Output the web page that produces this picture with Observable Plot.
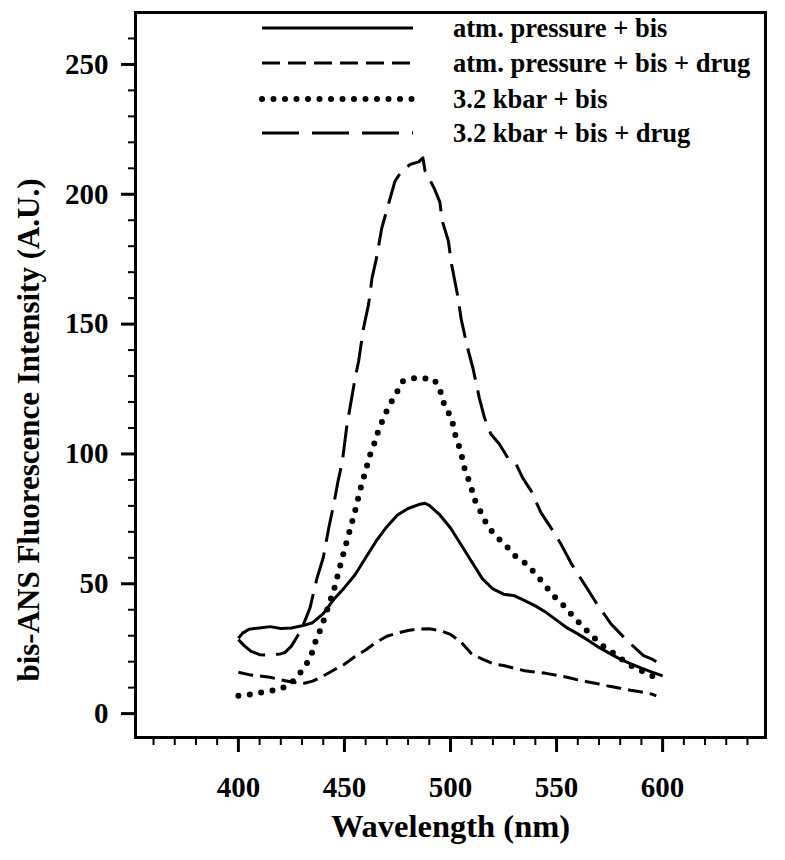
<!DOCTYPE html>
<html><head><meta charset="utf-8">
<script src="https://cdn.jsdelivr.net/npm/d3@7"></script>
<script src="https://cdn.jsdelivr.net/npm/@observablehq/plot@0.6"></script>
<style>
body{margin:0;background:#fff}
#wrap{position:relative;width:785px;height:860px;background:#fff}
#legend{position:absolute;left:0;top:0;pointer-events:none}
</style>
</head><body><div id="wrap"></div>
<script>
// Series: atm. pressure + bis (solid)
const atmBisX = [400,402,405,410,415,420,425,430,435,440,445,450,455,460,465,470,475,480,485,488,490,495,500,505,510,515,520,525,530,535,540,545,550,555,560,565,570,575,580,585,590,595,600];
const atmBisY = [29,31,32.5,33,33.5,32.8,33,33.8,35,38.5,44,48.5,53.5,60,66.5,72,76.5,79,80.5,81,80.2,76.5,71.5,65,58.5,52,48,46,45.4,43.5,41.5,39,36,33,30.7,28.2,25.5,23.2,21,19.2,17.5,16,14.5];

// Series: atm. pressure + bis + drug (short dash)
const atmDrugX = [400,405,410,415,420,425,430,435,440,445,450,455,460,465,470,475,480,485,490,495,500,505,510,515,520,525,530,535,540,545,550,555,560,565,570,575,580,585,590,595,597];
const atmDrugY = [15.9,15,14.5,14,13,12.2,11.5,12.5,14.5,16.8,19,22,24.5,27.5,29.8,31,32,32.6,32.7,32,30.5,27.5,23,21,19.2,18.5,17.5,16.5,16,15.5,14.8,14,13,12.2,11.4,10.5,9.8,9,8.3,7.5,6.8];

// Series: 3.2 kbar + bis (dotted)
const kbarBisX = [400,405,410,415,420,425,430,434,436,438.5,440.7,442.8,445,448,450,452,455,458,460,462,464,466,468.5,471,474,477.5,482.5,486,489.5,492.5,495.8,497.3,500.5,502,504,505.5,507,509.4,511,513.6,517,520.7,525.4,530,535.7,540.4,544,548.6,553.5,558.3,563,568,572.8,578.7,583.4,590,597,600];
const kbarBisY = [6.9,7.3,8,8.7,9.5,11.8,16.5,21.5,27,32,37,42.3,47.5,57,63,69,78,88,93.5,99.5,103.8,109,114,118.5,122.7,128,129.2,128.8,129.2,128.5,123,118,114,108,103,98.5,93,88.5,83,78.8,73,68.8,65.4,61,57.7,53.5,50,45.4,41.5,37,33,29,25.4,22.3,19.2,16.5,13.8,13];

// Series: 3.2 kbar + bis + drug (long dash)
const kbarDrugX = [400,403,406,410,415,420,422,425,428.5,431,433.8,437,440,442.6,445,447,449,451,452.6,455,456.7,459,461.4,463,465,467.6,470.7,473.8,477,481,485,487,488,490,492.5,495,496,499,500.5,503.6,505,508,510.6,513.6,516,519,523,527,531,534,538,542.7,547.4,552,557,563,569,575.6,583.4,591,595,597];
const kbarDrugY = [28.5,26,24,22.7,22.5,23,23.6,26,30.7,35,40.8,52,60,71.5,80.8,89.6,97,110,117.7,129,135.8,148.5,157.7,167.7,175,187,196,205,209,211.5,212.5,214,209,206,202,197,190,182,173,160,152,141,133,121.5,114,107.7,103.8,98.5,96,90.8,85.8,77.3,71.5,65.4,57.7,50,42.3,34.6,28,22.3,21,20];

const seriesNames = ["atm. pressure + bis","atm. pressure + bis + drug","3.2 kbar + bis","3.2 kbar + bis + drug"];
const yMajorTicks = [0,50,100,150,200,250];
const xMajorTicks = [400,450,500,550,600];

const styles = [
  {strokeWidth:3, strokeDasharray:null, legendDash:null, strokeLinecap:"butt"},
  {strokeWidth:3, strokeDasharray:"15,7", legendDash:"18,8", strokeLinecap:"butt"},
  {strokeWidth:6, strokeDasharray:"0,11.5", legendDash:"0,11.5", strokeLinecap:"round"},
  {strokeWidth:3, strokeDasharray:"32,11", legendDash:"37,13", strokeLinecap:"butt"}
];

const toRows = (xs, ys) => xs.map((x,i) => ({x, y: ys[i]}));
const series = [toRows(atmBisX, atmBisY), toRows(atmDrugX, atmDrugY), toRows(kbarBisX, kbarBisY), toRows(kbarDrugX, kbarDrugY)];

const yMinor = d3.range(0, 270, 10).filter(v => !yMajorTicks.includes(v));
const xMinor = d3.range(360, 650, 10).filter(v => !xMajorTicks.includes(v));

const font = "'Liberation Serif','Times New Roman',serif";

const lineMarks = series.map((rows, i) => Plot.line(rows, {
  x:"x", y:"y", stroke:"black",
  strokeWidth: styles[i].strokeWidth,
  strokeDasharray: styles[i].strokeDasharray || undefined,
  strokeLinecap: styles[i].strokeLinecap,
  strokeLinejoin: "round"
}));

const chart = Plot.plot({
  width: 785, height: 860,
  marginLeft: 135, marginRight: 20, marginTop: 12, marginBottom: 123,
  x: {domain: [351.5, 648.5]},
  y: {domain: [-9.2, 270]},
  style: {fontFamily: font, fontWeight: "bold", color: "black", background: "white", overflow: "visible"},
  marks: [
    Plot.axisY(yMinor, {tickSize: 7, tickFormat: () => "", strokeWidth: 2, label: null}),
    Plot.axisY(yMajorTicks, {tickSize: 14, tickPadding: 13, fontSize: 29, strokeWidth: 3, label: null}),
    Plot.axisX(xMinor, {tickSize: 8, tickFormat: () => "", strokeWidth: 2, label: null}),
    Plot.axisX(xMajorTicks, {tickSize: 15, tickPadding: 24, fontSize: 29, strokeWidth: 3, label: null}),
    ...lineMarks,
    Plot.frame({stroke: "black", strokeWidth: 3}),
    Plot.text(["Wavelength (nm)"], {frameAnchor: "bottom", dy: 99, fontSize: 32.5, fontWeight: "bold", fill: "black"}),
    Plot.text(["bis-ANS Fluorescence Intensity (A.U.)"], {frameAnchor: "left", textAnchor: "middle", rotate: -90, dx: -106, dy: 55, fontSize: 31, fontWeight: "bold", fill: "black"})
  ]
});
document.getElementById("wrap").appendChild(chart);

// Legend overlay
const leg = d3.select("#wrap").append("svg").attr("id","legend").attr("width",785).attr("height",860);
const rowY = [28, 63, 99, 133];
seriesNames.forEach((name, i) => {
  const s = styles[i];
  const ln = leg.append("line").attr("x1", 262).attr("x2", 413).attr("y1", rowY[i]).attr("y2", rowY[i])
    .attr("stroke","black").attr("stroke-width", s.strokeWidth).attr("stroke-linecap", s.strokeLinecap);
  if (s.legendDash) ln.attr("stroke-dasharray", s.legendDash);
  leg.append("text").attr("x", 453).attr("y", rowY[i]).attr("dy","0.35em")
    .attr("font-family", font).attr("font-weight","bold").attr("font-size", 26.5).attr("fill","black").text(name);
});
</script>
</body></html>
